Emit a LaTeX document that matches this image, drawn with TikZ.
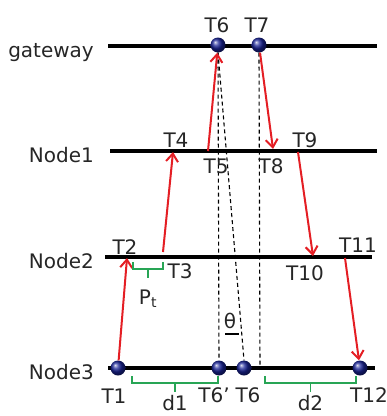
\documentclass[tikz,border=0pt]{standalone}
\usepackage{fontspec}
\setmainfont{DejaVu Sans}
\usepackage{tikz}
\usetikzlibrary{arrows.meta,positioning}
\definecolor{msgRed}{RGB}{228,30,36}
\definecolor{gapGreen}{RGB}{40,165,85}
\definecolor{nodeBlue}{RGB}{25,35,150}

\begin{document}
\begin{tikzpicture}[x=1pt,y=-1pt,
  lbl/.style={font=\fontsize{20}{24}\selectfont,text=black!85,inner sep=0pt},
  tline/.style={line width=3.5pt,black},
  ball/.style={circle,inner sep=0pt,minimum size=15pt,ball color=nodeBlue},
  msg/.style={msgRed,line width=2pt,
              -{Straight Barb[length=8pt,width=12pt,line width=2pt]}},
  sync/.style={black,line width=1.1pt,dash pattern=on 4pt off 3pt},
  gap/.style={gapGreen,line width=1.6pt}]
\useasboundingbox (0,0) rectangle (387,416);

% time lines
\foreach \nm/\txt/\y/\xa/\xb in {gw/gateway/46/108/377, n1/Node1/151/110/377,
                                  n2/Node2/257/105/372, n3/Node3/368/108/375}
{
  \node[lbl,anchor=base east] (\nm) at (94,\y+11) {\txt};
  \coordinate (\nm-s) at (\xa,\y);
  \coordinate (\nm-e) at (\xb,\y);
  \draw[tline] (\nm-s) -- (\nm-e);
}

% timestamps on the gateway and on Node3
\foreach \nm/\x/\y in {g6/218/45, g7/259/45, b1/118/368, b6p/219/368, b6/244/368, b12/360/368}
  \node[ball] (\nm) at (\x,\y) {};

\coordinate (t2) at (127,258);
\coordinate (t3) at (163,252);
\coordinate (t4) at (173,152);
\coordinate (t5) at (208,151);
\coordinate (t8) at (273,149);
\coordinate (t9) at (298,152);
\coordinate (t10) at (313,256);
\coordinate (t11) at (345,258);
\coordinate (t7d) at (260,368);

\draw[sync] (g6.south) -- (b6p.north);
\draw[sync] (g6.south) -- (b6.north);
\draw[sync] (g7.south) -- (t7d);

\draw[msg] (b1) -- (t2);
\draw[msg] (t3) -- (t4);
\draw[msg] (t5) -- (g6);
\draw[msg] (g7) -- (t8);
\draw[msg] (t9) -- (t10);
\draw[msg] (t11) -- (b12);

\foreach \nm/\txt/\x/\y in {l6/T6/217/32, l7/T7/257/32, l4/T4/176/147, l9/T9/305/147,
                            l5/T5/216/173, l8/T8/271/173, l2/T2/125/254, l11/T11/358/252,
                            l3/T3/180/278, l10/T10/305/280, l1/T1/114/403, l6p/T6'/214/402,
                            l6b/T6/248/402, l12/T12/369/402}
  \node[lbl,anchor=base] (\nm) at (\x,\y) {\txt};

\node[lbl] (theta) at (230,321) {θ};
\draw[line width=2.5pt] (225,334) -- (239,334);

% processing time and delays
\foreach \nm/\xa/\xb/\y/\ly/\txt in {pt/133/163/262/304/{P\textsubscript{t}},
                                     d1/132/218/376/410/d1, d2/265/356/376/410/d2}
{
  \draw[gap] (\xa,\y) -- (\xa,\y+7) -- (\xb,\y+7) -- (\xb,\y);
  \draw[gap] ({(\xa+\xb)/2},\y+7) -- ({(\xa+\xb)/2},\y+16);
  \node[lbl,anchor=base] (\nm) at ({(\xa+\xb)/2},\ly) {\txt};
}
\end{tikzpicture}
\end{document}
